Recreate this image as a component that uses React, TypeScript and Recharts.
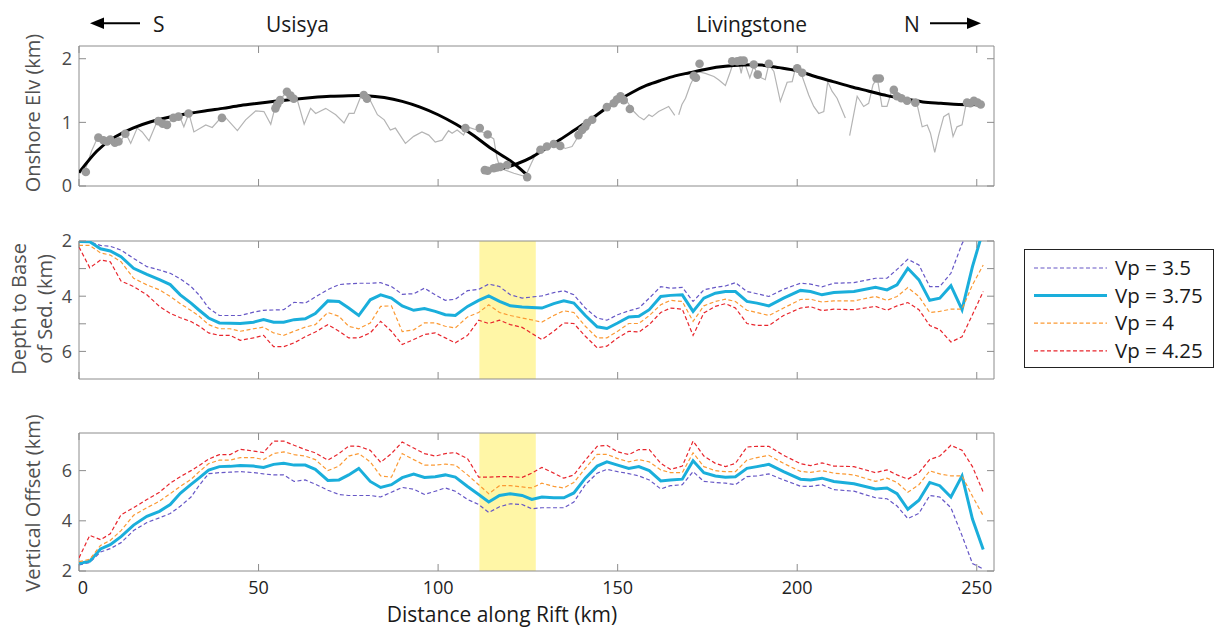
import React from "react";
import {
  ComposedChart,
  LineChart,
  Line,
  Scatter,
  XAxis,
  YAxis,
  ReferenceArea,
} from "recharts";

// ---- layout constants ----
const FONT = '"Open Sans", "DejaVu Sans", sans-serif';
const AXIS = "#8c8c8c";
const X_MAX = 254.8;
const X_TICKS = [0, 50, 100, 150, 200, 250];
const CHART_W = 1000;
const MARGIN_L = 78; // plus a 1px y-axis strip -> plot starts at x=79
const MARGIN_R = 6;
const PLOT_W = CHART_W - MARGIN_L - 1 - MARGIN_R;
const TICK_LEN = 7;

// ---- top panel: onshore elevation ----
const profileKm = [
  1.9, 3.5, 5.1, 7.4, 9.3, 11.6, 13, 14.4, 16.2, 17.6, 19.5, 21.8, 23.7, 26, 27.9, 29.2, 30.6, 32,
  35.3, 37.1, 39, 40.9, 44.1, 46.4, 49.2, 51.5, 53.4, 54.8, 57.1, 58.5, 60.8, 62.7, 64.5, 65.9,
  68.7, 71.5, 73.8, 75.2, 76.6, 78.5, 80.8, 83.1, 85, 86.7, 88.1, 90.9, 93.2, 95.5, 97.4, 99.2,
  101.1, 102.9, 103.9, 105.3, 107.1, 108.1, 110.8, 113.2, 115.5, 116.4, 117.3, 121.1, 124.3, 126,
  127.5, 130.8, 133.6, 135.4, 137.3, 138.7, 140.1, 141.9, 143.3, 145.7, 148, 150.3, 152.6, 154.5,
  155.9, 157.3, 158.7, 159.6, 161.4, 162.8, 164.2, 165.9, 166.4, 167, 167.9, 168.9, 170.3, 172.1,
  174.4, 176.8, 178.1, 180, 181.4, 182.3, 183.7, 184.4, 185.1, 186.8, 187.9, 189.3, 191.1, 192.1,
  193.5, 195.3, 197.2, 198.6, 199.5, 201.4, 203.2, 204.6, 206, 207.4, 208.5, 209.7, 211.1, 213.4,
  214, 214.6, 216.7, 218.5, 219.9, 221.1, 222.3, 223.6, 225, 226.4, 227.8, 229.7, 232, 233.4,
  234.8, 236.2, 237.1, 238.3, 239.4, 240.8, 242.2, 243.4, 244.5, 245.9, 246.9, 249.2, 251,
];
const profileElv = [
  0.28, 0.55, 0.75, 0.7, 0.72, 0.7, 0.83, 0.67, 0.91, 0.85, 0.71, 1.02, 0.96, 1.04, 1.11, 0.93, 1.14, 0.85,
  0.96, 0.92, 1.04, 1.07, 0.87, 1.04, 1.18, 1.17, 0.97, 1.28, 1.43, 1.49, 1.35, 0.97, 1.22, 1.14,
  1.22, 1.12, 0.99, 1.14, 1.14, 1.41, 1.38, 1.12, 1.04, 0.88, 0.91, 0.67, 0.78, 0.85, 0.8, 0.69,
  0.72, 0.87, 0.83, 0.88, 0.8, 0.93, 0.88, 0.83, 0.74, 0.44, 0.28, 0.2, 0.15, 0.36,
  0.54, 0.65, 0.65, 0.59, 0.62, 0.75, 0.93, 0.99, 1.04, 1.2, 1.3, 1.43, 1.33, 1.17,
  1.09, 1.04, 1.12, 1.09, 1.17, 1.21, 1.25, 1.11, null, 1.12, 1.28, 1.38, 1.6, 1.8,
  1.77, 1.72, 1.67, 1.58, 1.8, 1.96, 1.96, 1.77, 1.98, 1.7, 1.88, 1.72, 1.67, 1.91,
  1.8, 1.33, 1.63, 1.64, 1.85, 1.72, 1.43, 1.25, 1.14, 1.17, 1.64, 1.49, 1.38, 1.07,
  null, 0.79, 1.41, 1.25, 1.3, 1.59, 1.7, 1.25, 1.25, 1.51, 1.43, 1.35, 1.33, 1.28,
  0.93, 0.96, 0.83, 0.53, 0.8, 1.09, 1.14, 0.78, 0.93, 0.96, 1.25, 1.3, 1.29,
];

const peakKm = [
  1.9, 5.4, 6.8, 7.8, 8.7, 10, 11, 12.9, 22.1, 23.3, 24.5, 26.3, 27.7, 30.5, 39.8, 54.7, 55.2, 56,
  57.9, 58.9, 59.8, 79.3, 80.2, 107.6, 111.6, 113.8, 113, 113.8, 115.5, 116.4, 117.3, 119.2, 124.8,
  128.5, 130.3, 132.2, 134, 139.1, 140.1, 141, 141.5, 142.9, 147, 148.9, 149.8, 150.8, 151.7, 153.4,
  171.2, 171.8, 172.8, 181.9, 183.3, 184.2, 185.1, 187.9, 189, 192.1, 200, 201.4, 222.1, 223,
  226.9, 227.8, 229, 230.6, 232.9, 247.3, 248.2, 249.2, 250.2, 251.1,
];
const peakElv = [
  0.22, 0.76, 0.72, 0.7, 0.73, 0.68, 0.7, 0.82, 1.02, 0.98, 0.96, 1.07, 1.09, 1.14, 1.07, 1.22, 1.28, 1.35,
  1.48, 1.42, 1.37, 1.43, 1.37, 0.91, 0.91, 0.81, 0.25, 0.24, 0.28, 0.29, 0.3, 0.33, 0.14,
  0.57, 0.62, 0.66, 0.63, 0.8, 0.88, 0.93, 0.99, 1.04, 1.24, 1.3, 1.36, 1.41, 1.35, 1.21,
  1.73, 1.7, 1.92, 1.96, 1.96, 1.97, 1.97, 1.91, 1.75, 1.92, 1.85, 1.78, 1.69, 1.69,
  1.51, 1.41, 1.38, 1.34, 1.31, 1.31, 1.3, 1.34, 1.31, 1.28,
];

const usisyaKm = [0, 5, 10, 15, 20, 25, 30, 35, 40, 45, 50, 55, 60, 65, 70, 75, 80, 85, 90, 95, 100, 105, 110, 115, 120, 124.8];
const usisyaFit = [0.21, 0.55, 0.77, 0.91, 1.01, 1.08, 1.135, 1.18, 1.22, 1.265, 1.3, 1.335, 1.365, 1.39, 1.41, 1.42, 1.42, 1.39, 1.33, 1.24, 1.12, 0.97, 0.79, 0.58, 0.4, 0.17];

const livingstoneKm = [114, 118, 122, 126, 130, 134, 138, 142, 146, 150, 154, 158, 162, 166, 170, 175, 180, 185, 190, 195, 200, 205, 210, 215, 220, 225, 230, 235, 240, 245, 251];
const livingstoneFit = [0.25, 0.28, 0.35, 0.45, 0.59, 0.73, 0.88, 1.03, 1.19, 1.34, 1.47, 1.58, 1.66, 1.73, 1.78, 1.84, 1.88, 1.9, 1.9, 1.86, 1.81, 1.72, 1.64, 1.56, 1.49, 1.42, 1.37, 1.32, 1.3, 1.28, 1.28];

// ---- lower panels: sediment depth and vertical offset per velocity ----
const distanceKm = [
  0, 3, 6, 8.7, 11.7, 15.2, 18.9, 22.4, 25.4, 28.2,
  31.2, 33.4, 36.1, 39.1, 42.1, 44.9, 48.6, 51.4, 54.2, 57,
  59.9, 63, 65.8, 69.3, 72.4, 75.1, 77.9, 81.1, 84, 87,
  90, 93.2, 96.2, 99.2, 102, 104.8, 108.2, 111.3, 114.1, 117.1,
  120.1, 123.4, 126.1, 128.9, 132.2, 135, 137.8, 141, 144.3, 147,
  150, 153.1, 155.9, 158.8, 162, 164.7, 168, 171, 174, 177.2,
  180, 182.8, 186, 188.8, 192.1, 196.2, 200.9, 203.7, 206.9, 210.2,
  215.8, 221.8, 225, 227.8, 230.8, 233.9, 236.9, 239.7, 242.8, 245.9,
  248.8, 251.8,
];

const depth35 = [
  2.0, 2.03, 2.16, 2.19, 2.33, 2.63, 2.93, 3.05, 3.17, 3.37,
  3.65, 3.95, 4.43, 4.7, 4.7, 4.7, 4.58, 4.51, 4.5, 4.49,
  4.22, 4.25, 4.03, 3.76, 3.58, 3.55, 3.53, 3.53, 3.51, 3.65,
  3.93, 3.91, 3.71, 3.95, 4.15, 4.11, 3.8, 3.75, 3.56, 3.65,
  3.95, 4.07, 4.03, 3.99, 3.87, 3.8, 3.95, 4.43, 4.79, 4.87,
  4.67, 4.53, 4.43, 4.07, 3.65, 3.71, 3.68, 4.19, 3.77, 3.68,
  3.63, 3.51, 3.83, 3.91, 4.01, 3.75, 3.53, 3.56, 3.66, 3.53,
  3.51, 3.35, 3.35, 3.03, 2.66, 2.87, 3.65, 3.65, 3.17, 2.1,
  1.4, 0.8,
];
const depth375 = [
  2.02, 2.03, 2.28, 2.36, 2.57, 2.99, 3.21, 3.4, 3.58, 3.95,
  4.25, 4.5, 4.79, 4.97, 4.98, 4.99, 4.94, 4.85, 4.94, 4.94,
  4.85, 4.82, 4.63, 4.17, 4.19, 4.43, 4.7, 4.13, 3.95, 4.07,
  4.35, 4.51, 4.45, 4.55, 4.67, 4.7, 4.37, 4.15, 3.99, 4.19,
  4.35, 4.39, 4.41, 4.43, 4.27, 4.17, 4.25, 4.7, 5.11, 5.17,
  4.97, 4.75, 4.73, 4.49, 4.01, 3.97, 3.95, 4.55, 4.07, 3.89,
  3.83, 3.83, 4.19, 4.25, 4.35, 4.07, 3.79, 3.83, 3.95, 3.87,
  3.83, 3.68, 3.77, 3.59, 2.99, 3.41, 4.15, 4.07, 3.62, 4.49,
  2.93, 1.6,
];
const depth40 = [
  2.16, 2.16, 2.43, 2.51, 2.75, 3.35, 3.59, 3.77, 4.01, 4.27,
  4.52, 4.72, 5.03, 5.18, 5.18, 5.27, 5.18, 5.12, 5.33, 5.42,
  5.27, 5.12, 5.03, 4.59, 4.73, 5.09, 5.18, 4.97, 4.37, 4.35,
  5.28, 5.22, 4.97, 4.97, 5.09, 5.15, 4.75, 4.59, 4.31, 4.59,
  4.7, 4.79, 4.86, 4.94, 4.7, 4.53, 4.59, 5.09, 5.51, 5.51,
  5.27, 4.99, 4.99, 4.7, 4.31, 4.15, 4.19, 4.91, 4.35, 4.19,
  4.11, 4.19, 4.51, 4.59, 4.7, 4.43, 4.12, 4.11, 4.21, 4.17,
  4.17, 4.01, 4.15, 4.01, 3.69, 4.01, 4.59, 4.55, 4.47, 4.47,
  3.59, 2.87,
];
const depth425 = [
  2.22, 2.97, 2.69, 2.75, 3.45, 3.65, 3.95, 4.37, 4.62, 4.78,
  4.92, 5.08, 5.33, 5.42, 5.42, 5.6, 5.51, 5.42, 5.83, 5.83,
  5.69, 5.47, 5.3, 5.03, 5.27, 5.51, 5.51, 5.33, 4.91, 5.27,
  5.75, 5.57, 5.39, 5.33, 5.51, 5.69, 5.42, 4.87, 4.99, 4.87,
  5.03, 5.13, 5.35, 5.57, 5.27, 4.97, 4.99, 5.45, 5.87, 5.81,
  5.51, 5.27, 5.3, 5.03, 4.59, 4.43, 4.47, 5.42, 4.61, 4.37,
  4.27, 4.43, 4.99, 5.06, 5.06, 4.7, 4.43, 4.38, 4.52, 4.47,
  4.49, 4.37, 4.51, 4.35, 4.23, 4.49, 5.06, 5.21, 5.66, 5.47,
  4.67, 3.83,
];

const offset35 = [
  2.24, 2.34, 2.76, 2.89, 3.13, 3.61, 3.93, 4.12, 4.29, 4.58,
  4.95, 5.4, 5.88, 5.92, 5.94, 5.96, 5.92, 5.87, 5.83, 5.83,
  5.57, 5.63, 5.46, 5.22, 5.05, 5.01, 5.01, 5.01, 4.95, 5.14,
  5.33, 5.26, 5.05, 5.18, 5.31, 5.18, 4.85, 4.65, 4.33, 4.56,
  4.68, 4.65, 4.48, 4.52, 4.52, 4.52, 4.75, 5.44, 5.9, 6.05,
  5.96, 5.88, 5.79, 5.63, 5.27, 5.4, 5.44, 5.96, 5.57, 5.53,
  5.5, 5.44, 5.76, 5.79, 5.87, 5.63, 5.38, 5.37, 5.44, 5.24,
  5.18, 4.92, 4.88, 4.59, 4.09, 4.3, 5.01, 4.95, 4.52, 3.41,
  2.3, 2.08,
];
const offset375 = [
  2.3, 2.39, 2.88, 3.05, 3.37, 3.83, 4.18, 4.38, 4.65, 5.1,
  5.45, 5.7, 6.02, 6.16, 6.17, 6.2, 6.18, 6.13, 6.25, 6.29,
  6.22, 6.22, 6.05, 5.61, 5.63, 5.83, 6.09, 5.57, 5.33, 5.44,
  5.72, 5.86, 5.73, 5.76, 5.83, 5.74, 5.37, 5.05, 4.75, 5.01,
  5.08, 5.01, 4.85, 4.95, 4.92, 4.92, 5.11, 5.7, 6.18, 6.35,
  6.22, 6.09, 6.16, 6.0, 5.59, 5.63, 5.66, 6.39, 5.92, 5.79,
  5.74, 5.76, 6.09, 6.16, 6.25, 5.96, 5.66, 5.63, 5.7, 5.57,
  5.48, 5.27, 5.31, 5.08, 4.46, 4.82, 5.53, 5.4, 4.95, 5.79,
  4.07, 2.86,
];
const offset40 = [
  2.37, 2.47, 3.02, 3.22, 3.61, 4.22, 4.52, 4.78, 5.08, 5.37,
  5.65, 5.95, 6.28, 6.42, 6.42, 6.52, 6.52, 6.44, 6.68, 6.75,
  6.64, 6.58, 6.44, 6.0, 6.18, 6.58, 6.68, 6.35, 5.79, 5.74,
  6.68, 6.44, 6.22, 6.22, 6.26, 6.22, 5.83, 5.44, 5.08, 5.4,
  5.4, 5.35, 5.31, 5.5, 5.37, 5.31, 5.53, 6.09, 6.65, 6.65,
  6.48, 6.35, 6.44, 6.35, 6.03, 5.92, 5.92, 6.71, 6.16, 6.0,
  5.96, 5.96, 6.42, 6.52, 6.61, 6.29, 5.97, 5.93, 6.0, 5.9,
  5.83, 5.57, 5.7, 5.53, 5.14, 5.44, 5.99, 5.87, 5.79, 5.79,
  4.98, 4.2,
];
const offset425 = [
  2.52, 3.42, 3.25, 3.48, 4.24, 4.52, 4.85, 5.14, 5.5, 5.76,
  6.0, 6.2, 6.46, 6.64, 6.64, 6.85, 6.78, 6.72, 7.18, 7.18,
  7.01, 6.84, 6.71, 6.42, 6.68, 6.98, 6.97, 6.81, 6.33, 6.68,
  7.14, 6.9, 6.68, 6.58, 6.68, 6.72, 6.48, 5.74, 5.74, 5.76,
  5.76, 5.73, 5.9, 6.13, 5.9, 5.7, 5.83, 6.42, 6.97, 7.01,
  6.75, 6.64, 6.84, 6.84, 6.29, 6.05, 6.18, 7.18, 6.58, 6.29,
  6.16, 6.29, 6.94, 6.97, 6.97, 6.61, 6.28, 6.2, 6.31, 6.18,
  6.16, 5.92, 6.03, 5.83, 5.66, 5.92, 6.44, 6.58, 7.01, 6.81,
  6.16, 5.14,
];

// highlighted stretch along the rift (km)
const bandKm = [111.5, 127.2];

const series = [
  { key: "vp35", name: "Vp = 3.5", color: "#6657c6", width: 1.2, dash: "4 2.5" },
  { key: "vp375", name: "Vp = 3.75", color: "#1aaedb", width: 3, dash: undefined },
  { key: "vp40", name: "Vp = 4", color: "#fb9a34", width: 1.2, dash: "4 2.5" },
  { key: "vp425", name: "Vp = 4.25", color: "#e8262d", width: 1.2, dash: "4 2.5" },
];

const zip = (xs: number[], ys: (number | null)[]) => xs.map((km, i) => ({ km, elev: ys[i] }));

const profile = zip(profileKm, profileElv);
const peaks = zip(peakKm, peakElv);
const usisya = zip(usisyaKm, usisyaFit);
const livingstone = zip(livingstoneKm, livingstoneFit);

const depthRows = distanceKm.map((km, i) => ({
  km,
  vp35: depth35[i],
  vp375: depth375[i],
  vp40: depth40[i],
  vp425: depth425[i],
}));
const offsetRows = distanceKm.map((km, i) => ({
  km,
  vp35: offset35[i],
  vp375: offset375[i],
  vp40: offset40[i],
  vp425: offset425[i],
}));

// inward ticks on both bottom and top edges, label optional
function XTick(props: any) {
  const { x, y, payload, plotH, labelled } = props;
  return (
    <g>
      <line x1={x} x2={x} y1={y} y2={y - TICK_LEN} stroke={AXIS} />
      <line x1={x} x2={x} y1={y - plotH} y2={y - plotH + TICK_LEN} stroke={AXIS} />
      {labelled && (
        <text
          x={x + (payload.value === 0 ? 4 : 0)}
          y={y + 23}
          textAnchor="middle"
          fontSize={18}
          fontFamily={FONT}
          fill="#222"
        >
          {payload.value}
        </text>
      )}
    </g>
  );
}

// inward ticks on left and right edges
function YTick(props: any) {
  const { x, y, payload, shown } = props;
  const show = shown.includes(payload.value);
  return (
    <g>
      <line x1={x} x2={x + TICK_LEN} y1={y} y2={y} stroke={AXIS} />
      <line x1={x + PLOT_W} x2={x + PLOT_W - TICK_LEN} y1={y} y2={y} stroke={AXIS} />
      {show && (
        <text x={x - 7} y={y} dy="0.36em" textAnchor="end" fontSize={18} fontFamily={FONT} fill="#4a4a4a">
          {payload.value}
        </text>
      )}
    </g>
  );
}

// axes take a 1px strip; plot position comes from the chart margins
function xAxis(plotH: number, labelled: boolean) {
  return (
    <XAxis
      type="number"
      dataKey="km"
      domain={[0, X_MAX]}
      ticks={X_TICKS}
      interval={0}
      height={1}
      tickSize={0}
      tickMargin={0}
      axisLine={false}
      tickLine={false}
      allowDataOverflow
      tick={(p: any) => <XTick {...p} plotH={plotH} labelled={labelled} />}
    />
  );
}

function yAxis(domain: [number, number], ticks: number[], shown: number[], reversed = false, dataKey?: string) {
  return (
    <YAxis
      type="number"
      dataKey={dataKey}
      domain={domain}
      ticks={ticks}
      interval={0}
      width={1}
      tickSize={0}
      tickMargin={0}
      axisLine={false}
      tickLine={false}
      reversed={reversed}
      allowDataOverflow
      tick={(p: any) => <YTick {...p} shown={shown} />}
    />
  );
}

function frame(y1: number, y2: number) {
  return (
    <ReferenceArea x1={0} x2={X_MAX} y1={y1} y2={y2} fill="none" stroke={AXIS} strokeWidth={1} ifOverflow="visible" />
  );
}

function ElevationPanel() {
  return (
    <ComposedChart width={CHART_W} height={200} margin={{ top: 46, right: MARGIN_R, bottom: 13, left: MARGIN_L }}>
      {xAxis(140, false)}
      {yAxis([0, 2.2], [0, 1, 2], [0, 1, 2], false, "elev")}
      <Line
        data={profile}
        dataKey="elev"
        stroke="#b4b4b4"
        strokeWidth={1.2}
        dot={false}
        connectNulls={false}
        isAnimationActive={false}
      />
      <Scatter
        data={peaks}
        dataKey="elev"
        isAnimationActive={false}
        shape={(p: any) => <circle cx={p.cx} cy={p.cy} r={4.3} fill="#9a9a9a" />}
      />
      <Line data={usisya} dataKey="elev" type="natural" stroke="#000" strokeWidth={3} dot={false} isAnimationActive={false} />
      <Line data={livingstone} dataKey="elev" type="natural" stroke="#000" strokeWidth={3} dot={false} isAnimationActive={false} />
      {frame(0, 2.2)}
    </ComposedChart>
  );
}

function VelocityPanel(props: {
  rows: any[];
  height: number;
  top: number;
  bottom: number;
  domain: [number, number];
  ticks: number[];
  shown: number[];
  reversed?: boolean;
  labelled: boolean;
}) {
  const { rows, height, top, bottom, domain, ticks, shown, reversed, labelled } = props;
  const plotH = height - top - bottom - 1;
  return (
    <LineChart width={CHART_W} height={height} data={rows} margin={{ top, right: MARGIN_R, bottom, left: MARGIN_L }}>
      {xAxis(plotH, labelled)}
      {yAxis(domain, ticks, shown, reversed)}
      <ReferenceArea x1={bandKm[0]} x2={bandKm[1]} y1={domain[0]} y2={domain[1]} fill="#fff6a6" fillOpacity={1} stroke="none" />
      {series.map((s) => (
        <Line
          key={s.key}
          dataKey={s.key}
          name={s.name}
          stroke={s.color}
          strokeWidth={s.width}
          strokeDasharray={s.dash}
          dot={false}
          isAnimationActive={false}
        />
      ))}
      {frame(domain[0], domain[1])}
    </LineChart>
  );
}

function Annotations() {
  const txt = { fontFamily: FONT, fill: "#1a1a1a" } as const;
  const lab = { fontFamily: FONT, fill: "#505050", fontSize: 20, textAnchor: "middle" as const };
  return (
    <svg width={1215} height={628} style={{ position: "absolute", left: 0, top: 0, pointerEvents: "none" }}>
      {/* direction arrows and basin names */}
      <line x1={102} x2={140} y1={23.3} y2={23.3} stroke="#000" strokeWidth={2} />
      <polygon points="90,23.3 104,17.5 104,29.1" fill="#000" />
      <text x={153} y={31.5} fontSize={21} {...txt}>S</text>
      <text x={266} y={31.5} fontSize={21} {...txt}>Usisya</text>
      <text x={696} y={31.5} fontSize={21} {...txt}>Livingstone</text>
      <text x={904} y={31.5} fontSize={21} {...txt}>N</text>
      <line x1={930} x2={968} y1={23.3} y2={23.3} stroke="#000" strokeWidth={2} />
      <polygon points="981,23.3 967,17.5 967,29.1" fill="#000" />

      {/* axis titles */}
      <text transform="translate(40,113) rotate(-90)" {...lab}>Onshore Elv (km)</text>
      <text transform="translate(26,309) rotate(-90)" {...lab}>Depth to Base</text>
      <text transform="translate(52,309) rotate(-90)" {...lab}>of Sed. (km)</text>
      <text transform="translate(40,503) rotate(-90)" {...lab}>Vertical Offset (km)</text>
      <text x={502} y={622} textAnchor="middle" fontSize={21} {...txt}>Distance along Rift (km)</text>

      {/* legend */}
      <rect x={1024.5} y={249.5} width={189} height={118} fill="#fff" stroke="#222" strokeWidth={1} />
      {series.map((s, i) => {
        const y = 268 + i * 27.6;
        return (
          <g key={s.key}>
            <line x1={1034} x2={1107} y1={y} y2={y} stroke={s.color} strokeWidth={s.width} strokeDasharray={s.dash} />
            <text x={1115} y={y + 7} fontSize={20.5} {...txt}>{s.name}</text>
          </g>
        );
      })}
    </svg>
  );
}

export default function App() {
  return (
    <div style={{ position: "absolute", left: 0, top: 0, width: 1215, height: 628, background: "#fff", fontFamily: FONT }}>
      <div style={{ position: "absolute", left: 0, top: 0 }}>
        <ElevationPanel />
      </div>
      <div style={{ position: "absolute", left: 0, top: 200 }}>
        <VelocityPanel
          rows={depthRows}
          height={200}
          top={41}
          bottom={20}
          domain={[2, 7]}
          ticks={[2, 3, 4, 5, 6]}
          shown={[2, 4, 6]}
          reversed
          labelled={false}
        />
      </div>
      <div style={{ position: "absolute", left: 0, top: 400 }}>
        <VelocityPanel
          rows={offsetRows}
          height={228}
          top={33}
          bottom={56}
          domain={[2, 7.5]}
          ticks={[2, 4, 6]}
          shown={[2, 4, 6]}
          labelled
        />
      </div>
      <Annotations />
    </div>
  );
}
